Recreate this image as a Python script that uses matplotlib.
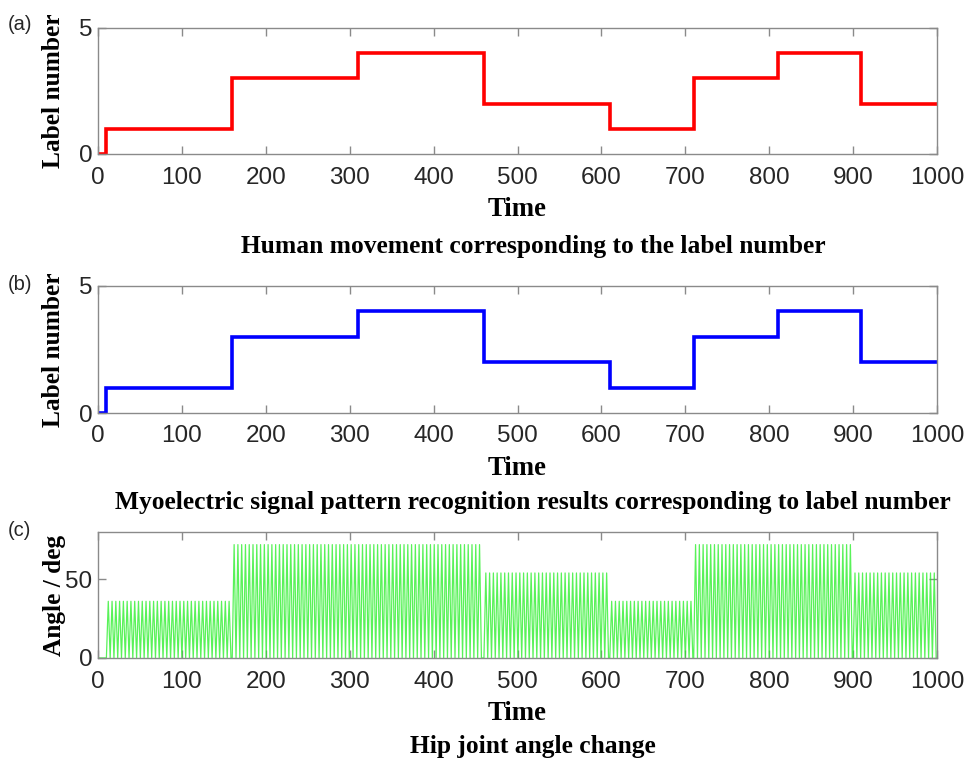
import numpy as np
import matplotlib
matplotlib.use("Agg")
import matplotlib.pyplot as plt

# ---- data ----
step_times = [0, 10, 160, 310, 460, 610, 710, 810, 910, 1000]
true_labels = [0, 1, 3, 4, 2, 1, 3, 4, 2]
pred_labels = [0, 1, 3, 4, 2, 1, 3, 4, 2]

angle_seg_times = [0, 10, 160, 460, 610, 710, 900, 1000]
angle_seg_amps = [0, 36, 72, 54, 36, 72, 54]
angle_period = 4.5

titles = ["Human movement corresponding to the label number",
          "Myoelectric signal pattern recognition results corresponding to label number",
          "Hip joint angle change"]
panel_tags = ["(a)", "(b)", "(c)"]
ylabels = ["Label number", "Label number", "Angle / deg"]
xticks = [0, 100, 200, 300, 400, 500, 600, 700, 800, 900, 1000]

W, H = 968, 758
fig = plt.figure(figsize=(W / 100, H / 100), dpi=100)

serif = ["Liberation Serif", "DejaVu Serif"]
sans = ["Liberation Sans", "DejaVu Sans"]
axcol = "#8a8a8a"
txtcol = "#262626"

boxes = [(28, 154), (286, 413), (532, 658)]
left, right = 98, 937


def make_ax(top, bot):
    ax = fig.add_axes([left / W, 1 - bot / H, (right - left) / W, (bot - top) / H])
    for s in ax.spines.values():
        s.set_color(axcol)
        s.set_linewidth(1.0)
    ax.tick_params(direction="in", top=True, right=True, length=6, width=1.0,
                   color=axcol, labelcolor=txtcol, labelsize=17.5)
    ax.tick_params(axis="x", pad=9)
    ax.tick_params(axis="y", pad=4)
    return ax


def step_xy(times, vals):
    xs, ys = [], []
    for i, v in enumerate(vals):
        xs += [times[i], times[i + 1]]
        ys += [v, v]
    return xs, ys


def finish(ax, k, yt):
    ax.set_xlim(0, 1000)
    ax.set_xticks(xticks)
    ax.set_xticklabels([str(t) for t in xticks], family=sans)
    ax.set_yticks(yt)
    ax.set_yticklabels([str(v) for v in yt], family=sans)
    top, bot = boxes[k]
    fig.text(54 / W, 1 - (top + bot) / 2 / H, ylabels[k], rotation=90,
             ha="center", va="center", family=serif, fontweight="bold",
             fontsize=18.3, color="black")
    fig.text((left + right) / 2 / W, 1 - (bot + 55) / H, "Time",
             ha="center", va="center", family=serif, fontweight="bold",
             fontsize=19.3, color="black")


# (a) and (b)
for k, (labels, col) in enumerate([(true_labels, "red"), (pred_labels, "blue")]):
    top, bot = boxes[k]
    ax = make_ax(top, bot)
    xs, ys = step_xy(step_times, labels)
    ax.plot(xs, ys, color=col, lw=2.6, solid_joinstyle="miter")
    ax.set_ylim(0, 5)
    finish(ax, k, [0, 5])

# (c)
top, bot = boxes[2]
ax = make_ax(top, bot)
xs, ys = [0, angle_seg_times[1]], [0, 0]
for i in range(1, len(angle_seg_amps)):
    t0, t1 = angle_seg_times[i], angle_seg_times[i + 1]
    amp = angle_seg_amps[i]
    t = t0
    while t + angle_period <= t1 + 0.01:
        xs += [t, t + angle_period * 0.5]
        ys += [0, amp]
        t += angle_period
    xs.append(t)
    ys.append(0)
ax.plot(xs, ys, color="#22ee22", lw=0.9, alpha=0.75)
ax.set_ylim(0, 80)
finish(ax, 2, [0, 50])

# titles and tags
title_x = 533
title_y = [246, 502, 747]
tag_y = [24, 285, 531]
for k in range(3):
    fig.text(title_x / W, 1 - title_y[k] / H, titles[k],
             ha="center", va="center", family=serif, fontweight="bold",
             fontsize=18.4, color="black")
    fig.text(8 / W, 1 - tag_y[k] / H, panel_tags[k], ha="left", va="center",
             family=sans, fontsize=14.5, color=txtcol)

fig.savefig("out.png", dpi=100)
